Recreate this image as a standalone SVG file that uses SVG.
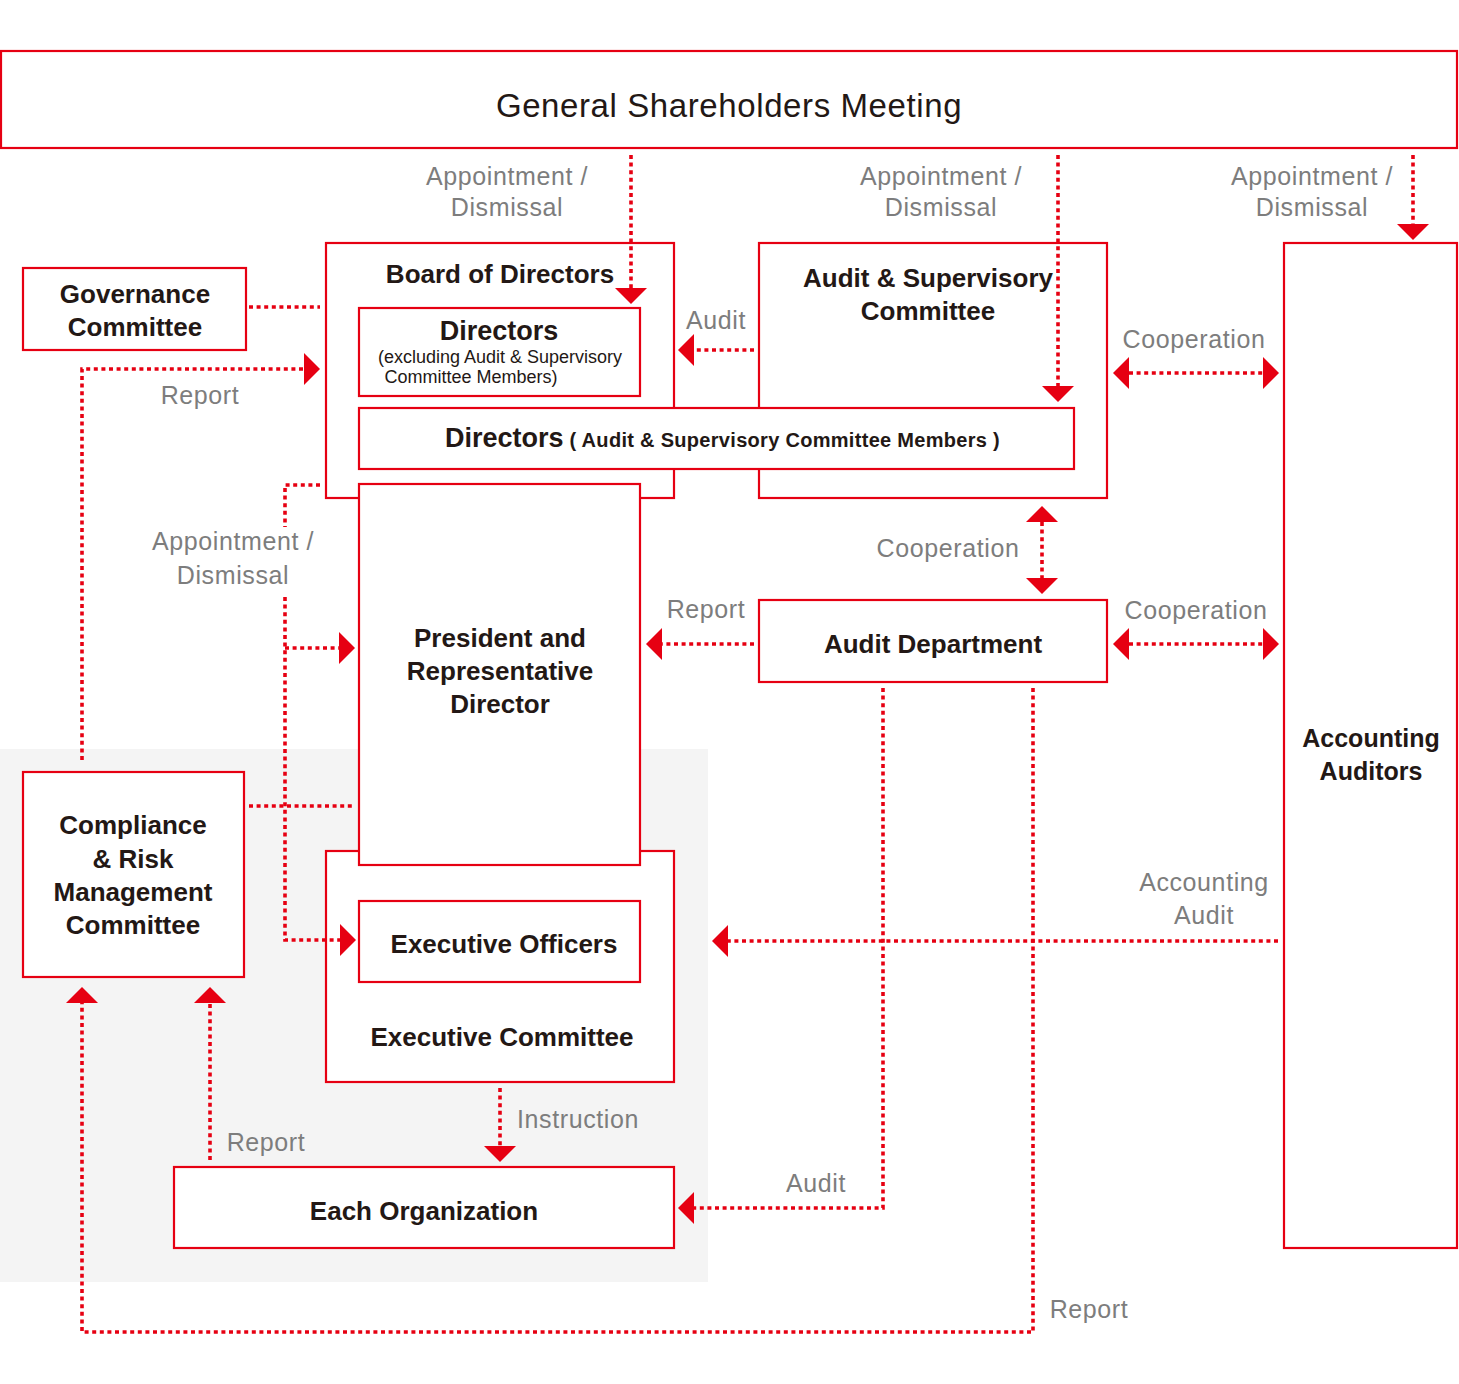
<svg xmlns="http://www.w3.org/2000/svg" width="1459" height="1384" viewBox="0 0 1459 1384">
<defs>
<style>
.box{fill:#fff;stroke:#e60012;stroke-width:2.2}
.t{font-family:"Liberation Sans",Arial,sans-serif;font-weight:bold;font-size:26px;fill:#231815;text-anchor:middle}
.lb{font-family:"Liberation Sans",Arial,sans-serif;font-size:25px;fill:#7d7d7d;text-anchor:middle;letter-spacing:0.6px}
.c{fill:none;stroke:#e60012;stroke-width:3.6;stroke-dasharray:4 3.6}
.a{marker-end:url(#arr)}
.d{marker-start:url(#arr);marker-end:url(#arr)}
</style>
<marker id="arr" viewBox="0 0 16 32" markerWidth="16" markerHeight="32" refX="0" refY="16" orient="auto-start-reverse" markerUnits="userSpaceOnUse">
<path d="M0,0 L16,16 L0,32 z" fill="#e60012"/>
</marker>
</defs>
<rect width="1459" height="1384" fill="#fff"/>
<rect x="0" y="749" width="708" height="533" fill="#f4f4f4"/>

<g id="gsm">
<rect class="box" x="1" y="51" width="1456" height="97"/>
<text class="t" x="729" y="117" style="font-weight:normal;font-size:33px;letter-spacing:0.6px">General Shareholders Meeting</text>
</g>
<g id="board">
<rect class="box" x="326" y="243" width="348" height="255"/>
<text class="t" x="500" y="283">Board of Directors</text>
</g>
<g id="audit-supervisory">
<rect class="box" x="759" y="243" width="348" height="255"/>
<text class="t" x="928" y="287">Audit &amp; Supervisory</text>
<text class="t" x="928" y="320">Committee</text>
</g>
<g id="accounting-auditors">
<rect class="box" x="1284" y="243" width="173" height="1005"/>
<text class="t" x="1371" y="747" style="font-size:25px">Accounting</text>
<text class="t" x="1371" y="780" style="font-size:25px">Auditors</text>
</g>
<g id="governance">
<rect class="box" x="23" y="268" width="223" height="82"/>
<text class="t" x="135" y="303">Governance</text>
<text class="t" x="135" y="336">Committee</text>
</g>
<g id="directors-excl">
<rect class="box" x="359" y="308" width="281" height="88"/>
<text class="t" x="499" y="340" style="font-size:27px">Directors</text>
<text class="t" x="500" y="363" style="font-weight:normal;font-size:18px">(excluding Audit &amp; Supervisory</text>
<text class="t" x="471" y="383" style="font-weight:normal;font-size:18px">Committee Members)</text>
</g>
<g id="directors-audit">
<rect class="box" x="359" y="408" width="715" height="61"/>
<text class="t" x="445" y="447" style="text-anchor:start;font-size:27px">Directors<tspan dx="6" style="font-size:20px;letter-spacing:0.3px">( Audit &amp; Supervisory Committee Members )</tspan></text>
</g>
<g id="exec-committee">
<rect class="box" x="326" y="851" width="348" height="231"/>
<text class="t" x="502" y="1046">Executive Committee</text>
</g>
<g id="president">
<rect class="box" x="359" y="484" width="281" height="381"/>
<text class="t" x="500" y="647">President and</text>
<text class="t" x="500" y="680">Representative</text>
<text class="t" x="500" y="713">Director</text>
</g>
<g id="exec-officers">
<rect class="box" x="359" y="901" width="281" height="81"/>
<text class="t" x="504" y="953">Executive Officers</text>
</g>
<g id="audit-dept">
<rect class="box" x="759" y="600" width="348" height="82"/>
<text class="t" x="933" y="653">Audit Department</text>
</g>
<g id="compliance">
<rect class="box" x="23" y="772" width="221" height="205"/>
<text class="t" x="133" y="834">Compliance</text>
<text class="t" x="133" y="868">&amp; Risk</text>
<text class="t" x="133" y="901">Management</text>
<text class="t" x="133" y="934">Committee</text>
</g>
<g id="each-org">
<rect class="box" x="174" y="1167" width="500" height="81"/>
<text class="t" x="424" y="1220">Each Organization</text>
</g>

<g id="connectors">
<path class="c a" d="M631,155 V288"/>
<path class="c a" d="M1058,155 V386"/>
<path class="c a" d="M1413,155 V224"/>
<path class="c a" d="M754,350 H694"/>
<path class="c d" d="M1129,373 H1263"/>
<path class="c" d="M249,307 H320"/>
<path class="c a" d="M82,760 V369 H304"/>
<path class="c" d="M320,485 H285 V527"/>
<path class="c a" d="M285,597 V940 H340"/>
<path class="c a" d="M285,648 H339"/>
<path class="c" d="M249,806 H355"/>
<path class="c d" d="M1042,522 V578"/>
<path class="c a" d="M754,644 H662"/>
<path class="c d" d="M1129,644 H1263"/>
<path class="c a" d="M1278,941 H728"/>
<path class="c a" d="M883,688 V1208 H694"/>
<path class="c a" d="M1033,688 V1332 H82 V1003"/>
<path class="c a" d="M210,1160 V1003"/>
<path class="c a" d="M500,1088 V1146"/>
<g class="lb">
<text x="507" y="185">Appointment /</text>
<text x="507" y="216">Dismissal</text>
<text x="941" y="185">Appointment /</text>
<text x="941" y="216">Dismissal</text>
<text x="1312" y="185">Appointment /</text>
<text x="1312" y="216">Dismissal</text>
<text x="716" y="329">Audit</text>
<text x="1194" y="348">Cooperation</text>
<text x="200" y="404">Report</text>
<text x="233" y="550">Appointment /</text>
<text x="233" y="584">Dismissal</text>
<text x="948" y="557">Cooperation</text>
<text x="706" y="618">Report</text>
<text x="1196" y="619">Cooperation</text>
<text x="1204" y="891">Accounting</text>
<text x="1204" y="924">Audit</text>
<text x="816" y="1192">Audit</text>
<text x="578" y="1128">Instruction</text>
<text x="266" y="1151">Report</text>
<text x="1089" y="1318">Report</text>
</g>
</g>
</svg>
